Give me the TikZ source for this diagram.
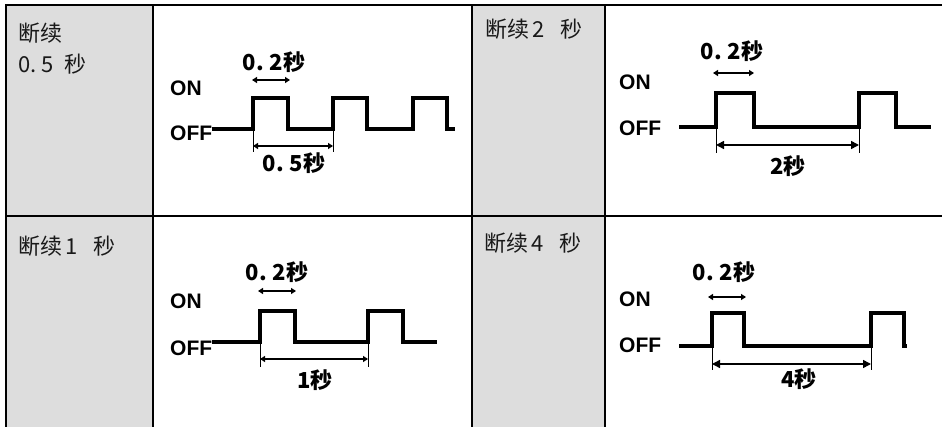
\documentclass[tikz,border=0pt]{standalone}
\usepackage{fontspec}
\setmainfont{Liberation Sans}
\newfontfamily\cjk{Noto Sans CJK SC}
\usetikzlibrary{arrows.meta}
\definecolor{cellgray}{RGB}{221,221,221}
\definecolor{labelink}{RGB}{25,25,25}
\tikzset{
  grid/.style={line width=2.2pt, line cap=rect},
  wave/.style={line width=3.3pt},
  dimline/.style={line width=1.5pt, {Triangle[length=5pt,width=6pt]}-{Triangle[length=5pt,width=6pt]}},
  dimbig/.style={line width=1.5pt, {Triangle[length=8pt,width=8pt]}-{Triangle[length=8pt,width=8pt]}},
  extline/.style={line width=0.9pt},
  modelabel/.style={anchor=west, inner sep=0pt, text depth=0pt, font=\fontsize{21}{24}\selectfont\bfseries},
  timelabel/.style={inner sep=0pt, font=\cjk\fontsize{22}{26}\selectfont\bfseries},
  celllabel/.style={anchor=west, inner sep=0pt, text=labelink, font=\cjk\fontsize{22}{26}\selectfont}
}
\begin{document}
\begin{tikzpicture}[x=1pt,y=-1pt]
\useasboundingbox (0,0) rectangle (942,427);
% cells
\fill[cellgray] (6,5) rectangle (153,427);
\fill[cellgray] (472,5) rectangle (605,427);
\draw[grid] (6,427) -- (6,5) -- (942,5);
\draw[grid] (6,216) -- (942,216);
\draw[grid] (153,5) -- (153,427);
\draw[grid] (472,5) -- (472,427);
\draw[grid] (605,5) -- (605,427);

% ---------- cell labels
\node[celllabel] (t1a) at (18,33) {断续};
\node[celllabel] (t1b) at (18,64) {0.\kern5pt 5 \kern6pt秒};
\node[celllabel] (t2) at (485,29) {断续\kern3pt 2 \kern11pt秒};
\node[celllabel] (t3) at (18,246) {断续\kern3pt 1 \kern11pt秒};
\node[celllabel] (t4) at (484,243) {断续\kern3pt 4 \kern11pt秒};

% ---------- Q1 : 0.5 s
\node[modelabel] (on1) at (170,88) {ON};
\node[modelabel] (off1) at (170,133) {OFF};
\coordinate (a1) at (off1.east);
\coordinate (r1a) at (253,129);
\coordinate (r1b) at (333,129);
\draw[wave] (a1 |- r1a) -- (r1a) -- (253,98) -- (288,98) -- (288,129) -- (r1b)
  -- (333,98) -- (367,98) -- (367,129) -- (413,129) -- (413,98) -- (447,98) -- (447,129) -- (455,129);
\coordinate (p1a) at (252,80);
\coordinate (p1b) at (290,80);
\draw[dimline] (p1a) -- (p1b);
\node[timelabel] (w1) at (274,62) {0.\kern6pt 2秒};
\coordinate (e1a) at (253,152);
\coordinate (e1b) at (333,152);
\draw[extline] (r1a) -- (e1a);
\draw[extline] (r1b) -- (e1b);
\coordinate (d1a) at (253,146);
\coordinate (d1b) at (333,146);
\draw[dimline] (d1a) -- (d1b);
\node[timelabel] (l1) at (294,163) {0.\kern6pt 5秒};

% ---------- Q2 : 2 s
\node[modelabel] (on2) at (619,82) {ON};
\node[modelabel] (off2) at (619,128) {OFF};
\coordinate (a2) at (679,127);
\coordinate (r2a) at (716,127);
\coordinate (r2b) at (859,127);
\draw[wave] (a2) -- (r2a) -- (716,93) -- (754,93) -- (754,127) -- (r2b)
  -- (859,93) -- (896,93) -- (896,127) -- (931,127);
\coordinate (p2a) at (713,73);
\coordinate (p2b) at (754,73);
\draw[dimline] (p2a) -- (p2b);
\node[timelabel] (w2) at (732,51) {0.\kern6pt 2秒};
\coordinate (e2a) at (716,153);
\coordinate (e2b) at (859,153);
\draw[extline] (r2a) -- (e2a);
\draw[extline] (r2b) -- (e2b);
\coordinate (d2a) at (716,145);
\coordinate (d2b) at (859,145);
\draw[dimbig] (d2a) -- (d2b);
\node[timelabel] (l2) at (788,166) {2秒};

% ---------- Q3 : 1 s
\node[modelabel] (on3) at (170,301) {ON};
\node[modelabel] (off3) at (170,348) {OFF};
\coordinate (a3) at (off3.east);
\coordinate (r3a) at (260,342);
\coordinate (r3b) at (368,342);
\draw[wave] (a3 |- r3a) -- (r3a) -- (260,311) -- (295,311) -- (295,342) -- (r3b)
  -- (368,311) -- (403,311) -- (403,342) -- (437,342);
\coordinate (p3a) at (258,291);
\coordinate (p3b) at (296,291);
\draw[dimline] (p3a) -- (p3b);
\node[timelabel] (w3) at (277,272) {0.\kern6pt 2秒};
\coordinate (e3a) at (260,367);
\coordinate (e3b) at (368,367);
\draw[extline] (r3a) -- (e3a);
\draw[extline] (r3b) -- (e3b);
\coordinate (d3a) at (260,359);
\coordinate (d3b) at (368,359);
\draw[dimline] (d3a) -- (d3b);
\node[timelabel] (l3) at (315,380) {1秒};

% ---------- Q4 : 4 s
\node[modelabel] (on4) at (619,299) {ON};
\node[modelabel] (off4) at (619,345) {OFF};
\coordinate (a4) at (679,346);
\coordinate (r4a) at (712,346);
\coordinate (r4b) at (871,346);
\draw[wave] (a4) -- (r4a) -- (712,313) -- (744,313) -- (744,346) -- (r4b)
  -- (871,313) -- (904,313) -- (904,346) -- (907,346);
\coordinate (p4a) at (708,297);
\coordinate (p4b) at (746,297);
\draw[dimline] (p4a) -- (p4b);
\node[timelabel] (w4) at (724,272) {0.\kern6pt 2秒};
\coordinate (e4a) at (712,370);
\coordinate (e4b) at (871,370);
\draw[extline] (r4a) -- (e4a);
\draw[extline] (r4b) -- (e4b);
\coordinate (d4a) at (712,364);
\coordinate (d4b) at (871,364);
\draw[dimbig] (d4a) -- (d4b);
\node[timelabel] (l4) at (799,379) {4秒};
\end{tikzpicture}
\end{document}
